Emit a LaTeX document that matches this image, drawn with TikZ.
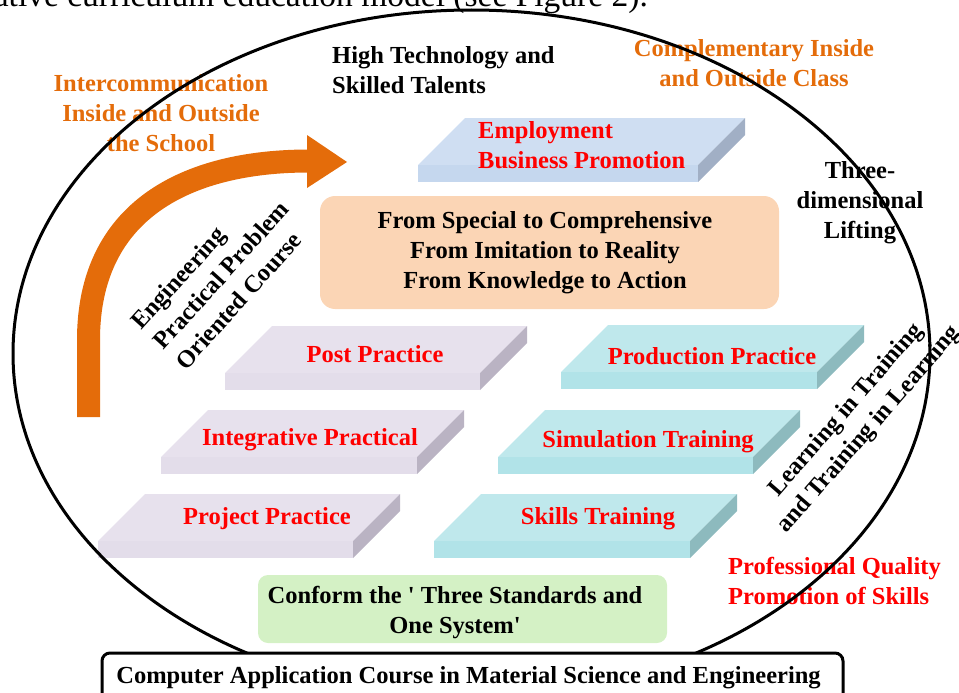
\documentclass[tikz,border=0pt]{standalone}
\usepackage{fontspec}
\setmainfont{Liberation Serif}[Ligatures=TeXOff]
\definecolor{orT}{HTML}{E46C0A}
\definecolor{redT}{HTML}{FF0000}
\definecolor{peach}{HTML}{FBD5B5}
\definecolor{lgreen}{HTML}{D4F1C5}
\definecolor{lavTop}{HTML}{E7E1ED}
\definecolor{lavFront}{HTML}{E3DDEA}
\definecolor{lavSide}{HTML}{BAB3C3}
\definecolor{cyTop}{HTML}{BFE8EC}
\definecolor{cyFront}{HTML}{B1E3E8}
\definecolor{cySide}{HTML}{8DBABE}
\definecolor{blTop}{HTML}{CFDEF2}
\definecolor{blFront}{HTML}{C5D7EE}
\definecolor{blSide}{HTML}{A1AFC5}
\newcommand\slabdraw[6]{%
  \fill[#4] (#1,#2) -- ({#1+#3},#2) -- ({#1+#3+47},{#2-47}) -- ({#1+47},{#2-47}) -- cycle;
  \fill[#5] (#1,#2) rectangle ({#1+#3},{#2+17});
  \fill[#6] ({#1+#3},#2) -- ({#1+#3+47},{#2-47}) -- ({#1+#3+47},{#2-30}) -- ({#1+#3},{#2+17}) -- cycle;
}
\tikzset{
  lbl/.style={font=\fontsize{24.5}{30}\selectfont\bfseries, inner sep=0pt, align=center},
}
\begin{document}
\begin{tikzpicture}[x=1pt,y=-1pt]
\useasboundingbox (0,0) rectangle (959,693);
\clip (0,0) rectangle (959,693);
% slabs
\slabdraw{418}{165}{280}{blTop}{blFront}{blSide}
\slabdraw{225}{373}{255}{lavTop}{lavFront}{lavSide}
\slabdraw{161}{457}{256}{lavTop}{lavFront}{lavSide}
\slabdraw{98}{541}{255}{lavTop}{lavFront}{lavSide}
\slabdraw{561}{372}{256}{cyTop}{cyFront}{cySide}
\slabdraw{498}{457}{255}{cyTop}{cyFront}{cySide}
\slabdraw{434}{541}{256}{cyTop}{cyFront}{cySide}
% boxes
\fill[peach, rounded corners=15] (320,196) rectangle (779,309);
\fill[lgreen, rounded corners=10] (258,575) rectangle (667,643);
% orange arrow
\draw[orT, line width=23] (88.5,417) -- (88.5,340) .. controls (88.5,210) and (187,161) .. (309,161);
\fill[orT] (307,135) -- (347,162) -- (307,188) -- cycle;
% texts
\node[lbl, text=orT] (intercomm) at (161,113) {Intercommunication\\Inside and Outside\\the School};
\node[lbl, anchor=west, align=left] (hightech) at (332,70.5) {High Technology and\\Skilled Talents};
\node[lbl, text=orT] (compl) at (754,63.5) {Complementary Inside\\and Outside Class};
\node[lbl] (lift) at (860,203) {Three-\\dimensional\\Lifting};
\node[lbl, text=redT, anchor=west, align=left] (prof) at (728,581) {Professional Quality\\Promotion of Skills};
\node[lbl, text=redT, anchor=west, align=left] (emp) at (478,145.5) {Employment\\Business Promotion};
\node[lbl, text=redT] (post) at (375,354) {Post Practice};
\node[lbl, text=redT] (integ) at (310,440) {Integrative Practical};
\node[lbl, text=redT] (proj) at (267,519) {Project Practice};
\node[lbl, text=redT] (prod) at (712,356) {Production Practice};
\node[lbl, text=redT] (sim) at (648,442) {Simulation Training};
\node[lbl, text=redT] (skill) at (598,519) {Skills Training};
\node[lbl] (fromtext) at (545,253) {From Special to Comprehensive\\From Imitation to Reality\\From Knowledge to Action};
\node[lbl] (conftext) at (455,613) {Conform the ' Three Standards and\\One System'};
\node[lbl, align=left, rotate=48] (eng) at (221,275) {Engineering\\Practical Problem\\Oriented Course};
\node[lbl, rotate=49] (learn) at (858,420) {Learning in Training\\and Training in Learning};
% ellipse
\draw[line width=3] (471.5,353.5) ellipse [x radius=458.5, y radius=343.5];
% bottom box
\draw[line width=3, fill=white, rounded corners=8] (102,653) rectangle (843,720);
\node[lbl] (course) at (468.5,677.5) {Computer Application Course in Material Science and Engineering};
% clipped text line at top
\node[anchor=base east, inner sep=0pt, font=\fontsize{33.5}{40}\selectfont] (topline) at (648,7) {ative curriculum education model (see Figure 2).};
\end{tikzpicture}
\end{document}
